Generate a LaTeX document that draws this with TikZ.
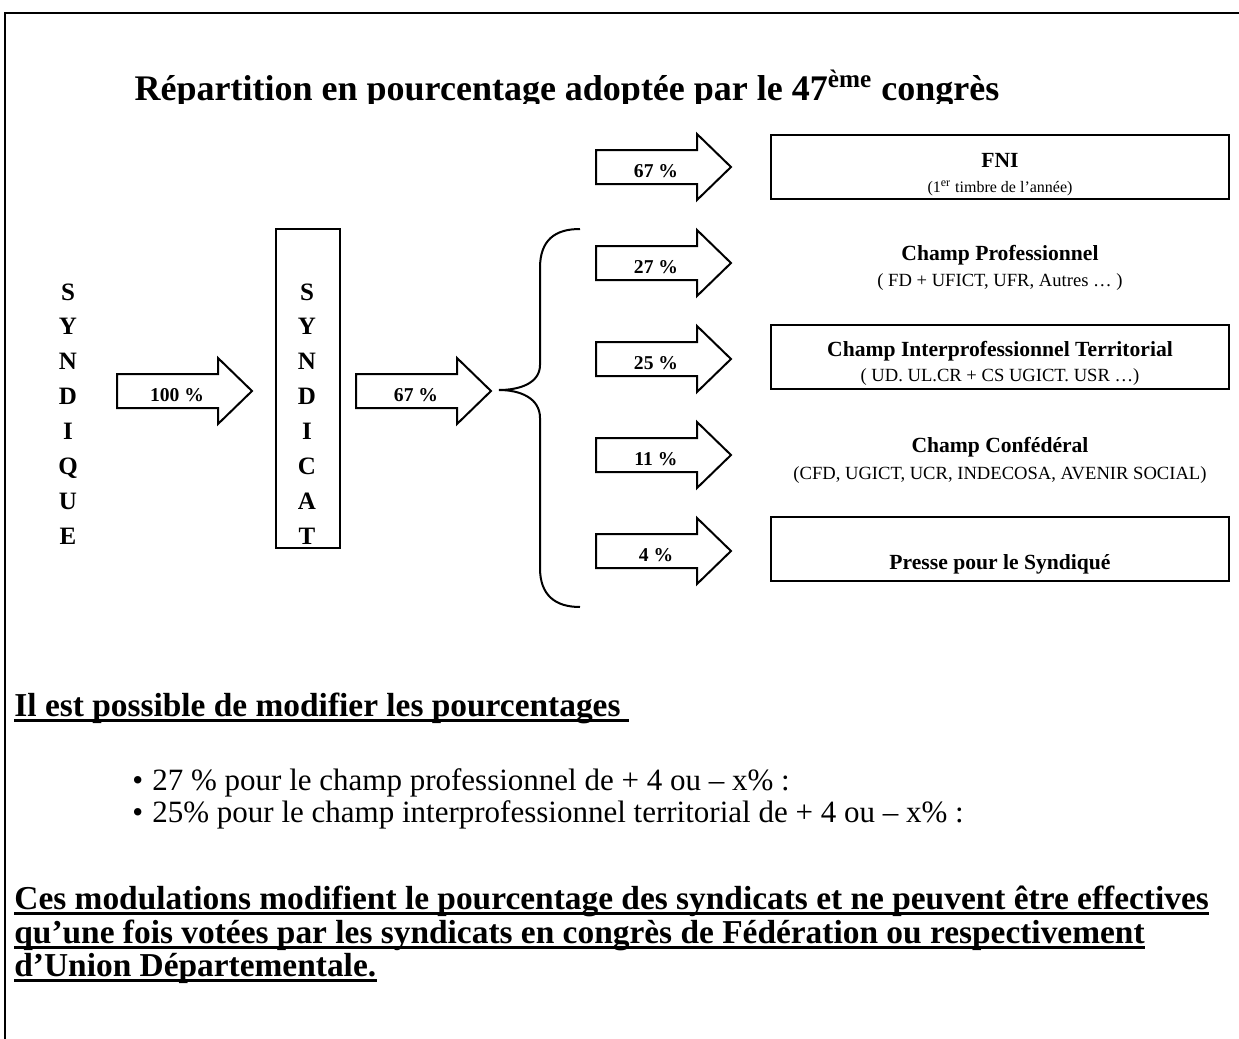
\documentclass[tikz,border=0pt]{standalone}
\usepackage{fontspec}
\setmainfont{Liberation Serif}
\usepackage{tikz}
% fleche: nom, gauche, centre, texte
\newcommand{\fleche}[4]{%
  \draw[trait] (#2,#3-17) -- ++(101,0) -- ++(0,-16) -- ++(34,33) -- ++(-34,33) -- ++(0,-16) -- ++(-101,0) -- cycle;
  \node[pct] (#1) at (#2+60,#3+4) {#4};}

\begin{document}
\begin{tikzpicture}[x=0.5pt,y=-0.5pt,
    trait/.style={line width=1pt},
    titre/.style={inner sep=0,anchor=base,font=\fontsize{18}{20}\selectfont\bfseries},
    lettre/.style={inner sep=0,anchor=base,font=\fontsize{12.5}{14}\selectfont\bfseries},
    pct/.style={inner sep=0,font=\fontsize{9.8}{11}\selectfont\bfseries},
    chef/.style={inner sep=0,anchor=base,font=\fontsize{10.8}{12}\selectfont\bfseries},
    sous/.style={inner sep=0,anchor=base,font=\fontsize{9.3}{11}\selectfont},
    texte/.style={inner sep=0,anchor=base west,font=\fontsize{15.5}{18}\selectfont},
    gras/.style={inner sep=0,anchor=base west,font=\fontsize{16.7}{19}\selectfont\bfseries},
    souligne/.style={line width=1.5pt}]
  \useasboundingbox (0,0) rectangle (1239,1039);
  \fill[white] (0,0) rectangle (1239,1039);
  % cadre
  \draw[trait] (1239,13) -- (5,13) -- (5,1039);
  % titre (coupe en bas)
  \begin{scope}
    \clip (0,0) rectangle (1239,103);
    \node[titre] (titre) at (567,100) {Répartition en pourcentage adoptée par le 47\textsuperscript{ème} congrès};
  \end{scope}
  % syndique
  \foreach \l [count=\i] in {S,Y,N,D,I,Q,U,E}
    \node[lettre] (sq\i) at (68,{300+34.86*(\i-1)}) {\l};
  \fleche{f100}{117}{391}{100 \%}
  % syndicat
  \draw[trait] (276,229) rectangle (340,548);
  \foreach \l [count=\i] in {S,Y,N,D,I,C,A,T}
    \node[lettre] (sc\i) at (307,{300+34.86*(\i-1)}) {\l};
  \fleche{f67}{356}{391}{67 \%}
  % accolade
  \draw[trait] (580,229) .. controls (555,229) and (540,240) .. (540,268) -- (540,365)
    .. controls (540,383) and (520,390) .. (499,390)
    .. controls (520,390) and (540,398) .. (540,418) -- (540,568)
    .. controls (540,595) and (555,607) .. (580,607);
  % repartition
  \foreach \y/\p [count=\i] in {167/67,263/27,359/25,455/11,551/4}
    \fleche{pr\i}{596}{\y}{\p{} \%}
  \draw[trait] (771,135) rectangle (1229,199);
  \draw[trait] (771,325) rectangle (1229,389);
  \draw[trait] (771,517) rectangle (1229,581);
  \node[chef] (fni) at (1000,167) {FNI};
  \node[sous,font=\fontsize{8}{10}\selectfont] (fnis) at (1000,192) {(1\textsuperscript{er} timbre de l’année)};
  \node[chef] (pro) at (1000,260) {Champ Professionnel};
  \node[sous] (pros) at (1000,286) {( FD + UFICT, UFR, Autres … )};
  \node[chef] (terr) at (1000,356) {Champ Interprofessionnel Territorial};
  \node[sous] (terrs) at (1000,381) {( UD. UL.CR + CS UGICT. USR …)};
  \node[chef] (conf) at (1000,452) {Champ Confédéral};
  \node[sous] (confs) at (1000,479) {(CFD, UGICT, UCR, INDECOSA, AVENIR SOCIAL)};
  \node[chef] (presse) at (1000,569) {Presse pour le Syndiqué};
  % texte du bas
  \node[gras] (possible) at (14,716) {Il est possible de modifier les pourcentages};
  \draw[souligne] ([yshift=-2pt]possible.base west) -- ([yshift=-2pt,xshift=4pt]possible.base east);
  \node[texte] (b1) at (132,790) {•};
  \node[texte] (l1) at (152,790) {27 \% pour le champ professionnel de + 4 ou – x\% :};
  \node[texte] (b2) at (132,822) {•};
  \node[texte] (l2) at (152,822) {25\% pour le champ interprofessionnel territorial de + 4 ou – x\% :};
  \node[gras] (c1) at (14,909) {Ces modulations modifient le pourcentage des syndicats et ne peuvent être effectives};
  \node[gras] (c2) at (14,943) {qu’une fois votées par les syndicats en congrès de Fédération ou respectivement};
  \node[gras] (c3) at (14,976) {d’Union Départementale.};
  \foreach \n in {c1,c2,c3}
    \draw[souligne] ([yshift=-2pt]\n.base west) -- ([yshift=-2pt]\n.base east);
\end{tikzpicture}
\end{document}
